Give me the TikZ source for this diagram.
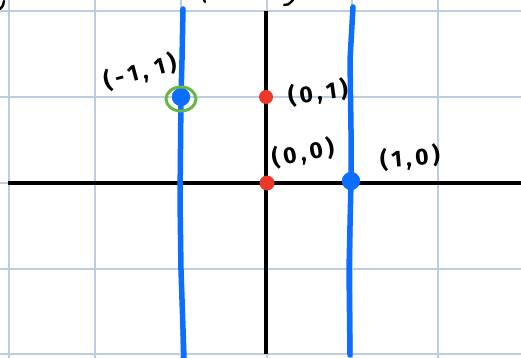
\documentclass[tikz,border=0pt]{standalone}
\usepackage{fontspec}
\setmainfont{Fira Sans}
\usetikzlibrary{shapes.geometric}
\definecolor{gridc}{RGB}{190,204,224}
\definecolor{penblue}{RGB}{12,110,255}
\definecolor{penred}{RGB}{236,56,40}
\definecolor{pengreen}{RGB}{100,185,70}
\begin{document}
\begin{tikzpicture}[x=1pt,y=-1pt,
  gridline/.style={gridc,line width=1.1pt},
  axis/.style={black,line width=3.6pt},
  bluepen/.style={penblue,line width=5.5pt,line cap=round,line join=round},
  ink/.style={black,line width=2.4pt,line cap=round},
  lbl/.style={font=\fontsize{23}{23}\selectfont\bfseries,inner sep=0pt},
  bdot/.style={circle,fill=penblue,inner sep=0pt,minimum size=18pt},
  rdot/.style={circle,fill=penred,inner sep=0pt,minimum size=15pt}]
\useasboundingbox (0,0) rectangle (521,358);
\fill[white] (0,0) rectangle (521,358);
% grid
\foreach \x in {9,95,181,267,352,438} \draw[gridline] (\x,0) -- (\x,358);
\foreach \y in {11,97,183,269,354} \draw[gridline] (0,\y) -- (521,\y);
% axes
\coordinate (xl) at (8,183);
\coordinate (xr) at (521,183);
\coordinate (yt) at (266,11);
\coordinate (yb) at (266,354);
\draw[axis] (xl) -- (xr);
\draw[axis] (yt) -- (yb);
% cut off strokes at the top
\draw[ink] (0,9) .. controls (3,6) .. (4,1);
\draw[ink] (204,0) -- (205,2);
\draw[ink] (284,5) .. controls (288,5) .. (293,0);
% blue lines
\coordinate (lt) at (183,9);
\coordinate (lb) at (184,358);
\coordinate (rt) at (353,7);
\coordinate (rb) at (350,355);
\node[bdot] (pm) at (181,97) {};
\node[bdot] (p10) at (351,181) {};
\draw[bluepen] (lt) -- (182,60) -- (pm.center) -- (180,200) -- (181,270) -- (lb);
\draw[bluepen] (rt) -- (350,60) -- (351,130) -- (p10.center) -- (349,270) -- (rb);
\node[bdot] at (pm) {};
\node[bdot] at (p10) {};
\node[draw=pengreen,line width=3pt,ellipse,minimum width=30pt,minimum height=24pt,inner sep=0pt] (gc) at (181,99) {};
% red points
\node[rdot,minimum size=14pt] (p01) at (266,97) {};
\node[rdot] (p00) at (267,183) {};
% labels
\node[lbl,rotate=15] (lm) at (140,72) {(\,-\,1\,,\,\,1\,)};
\node[lbl,rotate=8] (l01) at (318,93) {(\,0\,,\,1\,)};
\node[lbl,rotate=10] (l00) at (303,153) {(\,0\,,\,0\,)};
\node[lbl,rotate=5] (l10) at (410,158) {(\,1\,,\,0\,)};
\end{tikzpicture}
\end{document}
